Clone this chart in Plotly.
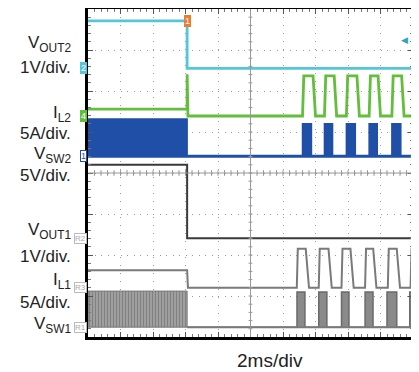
import plotly.graph_objects as go

# scope capture: 10 x 8 divisions, 2 ms/div, levels in divisions from bottom line
t_step = 6.1          # ms, load step edge
t_end = 20.0

vout2_lvl = [7.71, 6.55]            # before, after
il2_lvl = [5.56, 5.39, 6.37]        # before, after base, pulse top
il2_spike = 6.41
vsw2_lvl = [4.41, 5.32, 5.20]       # base, switching top, burst top
vout1_lvl = [4.20, 2.41]
il1_lvl = [1.63, 1.20, 2.15]
vsw1_lvl = [0.24, 1.12, 1.10]

il2_on = [13.2, 14.55, 15.9, 17.3, 18.7]
il2_off = [13.85, 15.15, 16.55, 17.85, 19.3]
vsw2_on = [13.2, 14.55, 15.9, 17.3, 18.7]
vsw2_off = [13.75, 15.05, 16.45, 17.8, 19.25]
il1_on = [12.85, 14.2, 15.6, 17.05, 18.45, 19.85]
il1_off = [13.4, 14.8, 16.15, 17.55, 19.0, 20.5]
vsw1_on = [12.86, 14.2, 15.6, 17.05, 18.4, 19.8]
vsw1_off = [13.35, 14.7, 16.06, 17.54, 19.0, 20.0]

CYAN = "#55c6d8"
GREEN = "#62be3c"
BLUE = "#1f4fa6"
DARK = "#3a3a3a"
GRAY = "#7a7a7a"


def pulse_path(base, top, on, off, rise, fall):
    xs, ys = [t_step], [base]
    for a, b in zip(on, off):
        xs += [a, a + rise, b, b + fall]
        ys += [base, top, top, base]
    xs.append(t_end)
    ys.append(base)
    return xs, ys


fig = go.Figure()

# VOUT2
fig.add_trace(go.Scatter(x=[0, t_step, t_step, t_end],
                         y=[vout2_lvl[0], vout2_lvl[0], vout2_lvl[1], vout2_lvl[1]],
                         mode="lines", line=dict(color=CYAN, width=2.8)))

# IL2
px_, py_ = pulse_path(il2_lvl[1], il2_lvl[2], il2_on, il2_off, 0.08, 0.15)
fig.add_trace(go.Scatter(x=[0, t_step, t_step, t_step + 0.05] + px_[1:],
                         y=[il2_lvl[0], il2_lvl[0], il2_spike, il2_lvl[1]] + py_[1:],
                         mode="lines", line=dict(color=GREEN, width=2.8)))

# VSW2 : switching band then bursts
bx, by = pulse_path(vsw2_lvl[0], vsw2_lvl[2], vsw2_on, vsw2_off, 0.0, 0.0)
fig.add_trace(go.Scatter(x=[0, 0, t_step, t_step] + bx + [0],
                         y=[vsw2_lvl[0], vsw2_lvl[1], vsw2_lvl[1], vsw2_lvl[0]] + by + [vsw2_lvl[0]],
                         mode="lines", fill="toself", fillcolor=BLUE,
                         line=dict(color=BLUE, width=1.5)))
fig.add_trace(go.Scatter(x=[0, t_end], y=[vsw2_lvl[0], vsw2_lvl[0]],
                         mode="lines", line=dict(color=BLUE, width=3)))

# VOUT1
fig.add_trace(go.Scatter(x=[0, t_step, t_step, t_end],
                         y=[vout1_lvl[0], vout1_lvl[0], vout1_lvl[1], vout1_lvl[1]],
                         mode="lines", line=dict(color=DARK, width=2)))

# IL1
px_, py_ = pulse_path(il1_lvl[1], il1_lvl[2], il1_on, il1_off, 0.06, 0.2)
fig.add_trace(go.Scatter(x=[0, t_step, t_step + 0.05] + px_[1:],
                         y=[il1_lvl[0], il1_lvl[0], il1_lvl[1]] + py_[1:],
                         mode="lines", line=dict(color=GRAY, width=2)))

# VSW1 : striped switching band, then gray bursts
fig.add_trace(go.Scatter(x=[0, 0, t_step, t_step, 0],
                         y=[vsw1_lvl[0], vsw1_lvl[1], vsw1_lvl[1], vsw1_lvl[0], vsw1_lvl[0]],
                         mode="lines", fill="toself", fillcolor="#999999",
                         fillpattern=dict(shape="|", fgcolor="#5a5a5a", bgcolor="#a8a8a8",
                                          size=3, solidity=0.5),
                         line=dict(color="#777777", width=1)))
bx, by = pulse_path(vsw1_lvl[0], vsw1_lvl[2], vsw1_on, vsw1_off, 0.0, 0.0)
fig.add_trace(go.Scatter(x=bx, y=by, mode="lines", fill="toself", fillcolor="#8a8a8a",
                         line=dict(color="#6a6a6a", width=1.5)))
fig.add_trace(go.Scatter(x=[t_step, t_end], y=[vsw1_lvl[0], vsw1_lvl[0]],
                         mode="lines", line=dict(color=GRAY, width=2)))

# centre cross with small ticks
shapes = [
    dict(type="line", x0=10, x1=10, y0=0, y1=8, line=dict(color="#999", width=1)),
    dict(type="line", x0=0, x1=20, y0=4, y1=4, line=dict(color="#999", width=1)),
]
for i in range(1, 50):
    shapes.append(dict(type="line", x0=i * 0.4, x1=i * 0.4, y0=3.93, y1=4.07,
                       line=dict(color="#999", width=1)))
for i in range(1, 40):
    shapes.append(dict(type="line", x0=9.88, x1=10.12, y0=i * 0.2, y1=i * 0.2,
                       line=dict(color="#999", width=1)))

# page body has an 8px margin, so the figure is offset by 8px in the window
fig.update_layout(
    width=419, height=372,
    margin=dict(l=80, r=14, t=1, b=43, autoexpand=False),
    paper_bgcolor="white", plot_bgcolor="white",
    showlegend=False,
    font=dict(family="Arial, Liberation Sans, sans-serif", color="#222"),
    shapes=shapes,
)
fig.update_xaxes(range=[0, 20], dtick=2, showticklabels=False, zeroline=False,
                 showgrid=True, gridcolor="#9a9a9a", gridwidth=1, griddash="1px,7px",
                 showline=True, linecolor="black", linewidth=2.5, mirror="allticks",
                 ticks="inside", ticklen=5, tickcolor="#555",
                 minor=dict(dtick=0.4, ticks="inside", ticklen=3, tickcolor="#777", showgrid=False))
fig.update_yaxes(range=[0, 8], dtick=1, showticklabels=False, zeroline=False,
                 showgrid=True, gridcolor="#9a9a9a", gridwidth=1, griddash="1px,5.5px",
                 showline=True, linecolor="black", linewidth=2.5, mirror="allticks",
                 ticks="inside", ticklen=5, tickcolor="#555",
                 minor=dict(dtick=0.2, ticks="inside", ticklen=3, tickcolor="#777", showgrid=False))

labels = [
    ("V<sub>OUT2</sub>", 7.14), ("1V/div.", 6.57),
    ("I<sub>L2</sub>", 5.44), ("5A/div.", 4.97),
    ("V<sub>SW2</sub>", 4.44), ("5V/div.", 3.94),
    ("V<sub>OUT1</sub>", 2.58), ("1V/div.", 1.97),
    ("I<sub>L1</sub>", 1.36), ("5A/div.", 0.85),
    ("V<sub>SW1</sub>", 0.30), ("5V/div.", -0.21),
]
for txt, yv in labels:
    fig.add_annotation(text=txt, x=-0.049, xref="paper", y=yv, yref="y",
                       xanchor="right", yanchor="middle", showarrow=False,
                       font=dict(size=17, color="#222"), borderpad=0)

# channel badges at left edge
badges = [
    ("2", 6.55, "white", CYAN, CYAN),
    ("4", 5.39, "white", GREEN, GREEN),
    ("1", 4.41, BLUE, "white", BLUE),
    ("R2", 2.41, "#aaa", "white", "#bbb"),
    ("R3", 1.20, "#aaa", "white", "#bbb"),
    ("R1", 0.22, "#aaa", "white", "#bbb"),
]
for txt, yv, fc, bg, bc in badges:
    fig.add_annotation(text=txt, x=0, xref="paper", y=yv, yref="y", xanchor="right",
                       yanchor="middle", showarrow=False, xshift=-1,
                       font=dict(size=8 if len(txt) > 1 else 9, color=fc),
                       bgcolor=bg, bordercolor=bc, borderwidth=1, borderpad=0)

# trigger marker and right-edge level marker
fig.add_annotation(text="1", x=t_step, y=7.71, showarrow=False, font=dict(size=9, color="white"),
                   bgcolor="#ee7b30", bordercolor="#ee7b30", borderpad=0)
fig.add_annotation(text="\u25c0", x=0.99, xref="paper", y=7.24, showarrow=False,
                   font=dict(size=9, color="#2aa7b8"))

fig.add_annotation(text="2ms/div", x=0.56, xref="paper", y=-0.073, yref="paper",
                   yanchor="middle", showarrow=False, font=dict(size=19, color="#222"))

fig.write_html("out.html")
